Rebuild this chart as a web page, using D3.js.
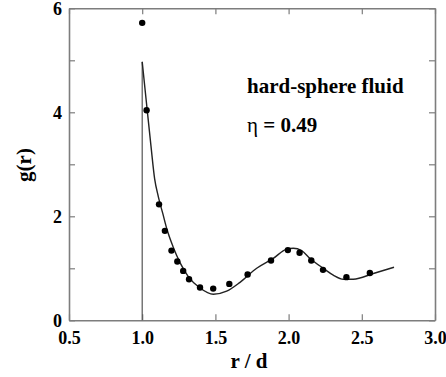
<!DOCTYPE html>
<html lang="en">
<head>
<meta charset="UTF-8">
<title>g(r) hard-sphere fluid</title>
<script src="https://d3js.org/d3.v7.min.js"></script>
<style>
  body { margin: 0; background: #fff; }
  svg text { font-family: "Liberation Serif", "DejaVu Serif", serif !important; font-weight: bold; }
</style>
</head>
<body>
<script>
// simulation points
var dotR = [1.00, 1.03, 1.115, 1.155, 1.20, 1.24, 1.28, 1.32, 1.395, 1.485, 1.595, 1.72, 1.88, 1.995, 2.075, 2.155, 2.235, 2.395, 2.555];
var dotG = [5.72, 4.04, 2.23, 1.72, 1.34, 1.13, 0.95, 0.79, 0.63, 0.61, 0.70, 0.88, 1.15, 1.35, 1.30, 1.15, 0.97, 0.83, 0.91];

// theory curve
var curveR = [1.0, 1.035, 1.06, 1.085, 1.11, 1.14, 1.17, 1.21, 1.26, 1.315, 1.395, 1.486, 1.577, 1.668, 1.782, 1.895, 1.987, 2.032, 2.089, 2.146, 2.237, 2.305, 2.374, 2.442, 2.579, 2.72];
var curveG = [4.97, 4.02, 3.35, 2.72, 2.38, 2.06, 1.74, 1.42, 1.10, 0.84, 0.62, 0.50, 0.56, 0.73, 1.00, 1.19, 1.37, 1.385, 1.34, 1.19, 1.00, 0.87, 0.79, 0.79, 0.90, 1.02];

// contact jump at r = d
var jumpR = [1.0, 1.0];
var jumpG = [0, 4.97];

var xTicks = [0.5, 1.0, 1.5, 2.0, 2.5, 3.0];
var yTicks = [0, 1, 2, 3, 4, 5, 6];
var yLabels = [0, 2, 4, 6];

var w = 446, h = 377;
var m = {left: 69, top: 8.3, right: 11, bottom: 56.7};

var svg = d3.select("body").append("svg")
    .attr("width", w)
    .attr("height", h);

var x = d3.scaleLinear().domain([0.5, 3.0]).range([m.left, w - m.right]);
var y = d3.scaleLinear().domain([0, 6]).range([h - m.bottom, m.top]);

var frameColor = "#7d7d7d";

function styleAxis(g) {
    g.attr("font-family", null);
    g.select(".domain").attr("stroke", frameColor).attr("stroke-width", 1.6);
    g.selectAll(".tick line").attr("stroke", frameColor).attr("stroke-width", 1.2);
    g.selectAll(".tick text").attr("fill", "#000");
}

svg.append("g")
    .attr("transform", "translate(0," + y(0) + ")")
    .call(d3.axisBottom(x).tickValues(xTicks).tickSizeInner(-6).tickSizeOuter(0)
        .tickPadding(11).tickFormat(d3.format(".1f")))
    .attr("font-size", 18)
    .call(styleAxis);

svg.append("g")
    .attr("transform", "translate(0," + y(6) + ")")
    .call(d3.axisTop(x).tickValues(xTicks).tickSizeInner(-6).tickSizeOuter(0).tickFormat(""))
    .call(styleAxis);

svg.append("g")
    .attr("transform", "translate(" + x(0.5) + ",0)")
    .call(d3.axisLeft(y).tickValues(yTicks).tickSizeInner(-6).tickSizeOuter(0)
        .tickPadding(7)
        .tickFormat(function(d){ return yLabels.indexOf(d) >= 0 ? d : ""; }))
    .attr("font-size", 18)
    .call(styleAxis);

svg.append("g")
    .attr("transform", "translate(" + x(3.0) + ",0)")
    .call(d3.axisRight(y).tickValues(yTicks).tickSizeInner(-6).tickSizeOuter(0).tickFormat(""))
    .call(styleAxis);

// vertical jump
var jump = d3.zip(jumpR, jumpG);
svg.append("path")
    .datum(jump)
    .attr("fill", "none")
    .attr("stroke", "#555")
    .attr("stroke-width", 1.2)
    .attr("d", d3.line().x(function(d){ return x(d[0]); }).y(function(d){ return y(d[1]); }));

// theory line
var curve = d3.zip(curveR, curveG);
svg.append("path")
    .datum(curve)
    .attr("fill", "none")
    .attr("stroke", "#222")
    .attr("stroke-width", 1.4)
    .attr("d", d3.line().curve(d3.curveMonotoneX)
        .x(function(d){ return x(d[0]); })
        .y(function(d){ return y(d[1]); }));

// points
var dots = d3.zip(dotR, dotG);
svg.selectAll("circle")
    .data(dots)
    .enter()
    .append("circle")
    .attr("cx", function(d){ return x(d[0]); })
    .attr("cy", function(d){ return y(d[1]); })
    .attr("r", 3.2)
    .attr("fill", "#000");

// labels
svg.append("text")
    .attr("x", (x(0.5) + x(3.0)) / 2 - 3)
    .attr("y", 368)
    .attr("text-anchor", "middle")
    .attr("font-size", 21)
    .text("r / d");

svg.append("text")
    .attr("transform", "translate(31,165) rotate(-90)")
    .attr("text-anchor", "middle")
    .attr("font-size", 21)
    .text("g(r)");

svg.append("text")
    .attr("x", 247)
    .attr("y", 93)
    .attr("font-size", 21)
    .text("hard-sphere fluid");

var eta = svg.append("text")
    .attr("x", 247)
    .attr("y", 132)
    .attr("font-size", 21);
eta.append("tspan").style("font-weight", "normal").text("\u03b7");
eta.append("tspan").text(" = 0.49");
</script>
</body>
</html>
